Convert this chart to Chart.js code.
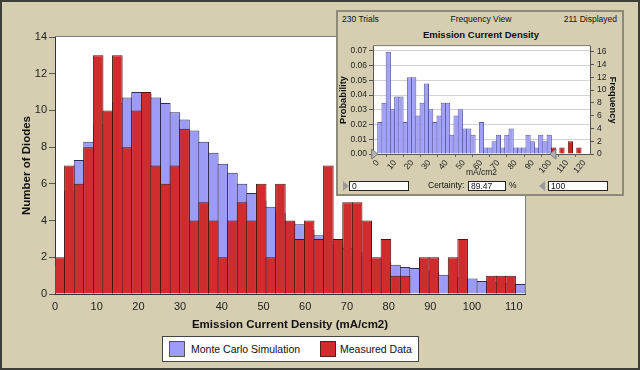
<!DOCTYPE html>
<html>
<head>
<meta charset="utf-8">
<script src="https://cdn.jsdelivr.net/npm/chart.js@4.4.1/dist/chart.umd.min.js"></script>
<style>
  html, body { margin: 0; padding: 0; background: #d5ceb1; }
  #wrap { position: relative; width: 640px; height: 370px; background: #d5ceb1; overflow: hidden;
          font-family: "Liberation Sans", Arial, sans-serif; color: #1a1a1a; }
  .abs { position: absolute; white-space: nowrap; }
  #main { position: absolute; left: 0; top: 0; }
  #legend { left: 162px; top: 336px; width: 257px; height: 26px; box-sizing: border-box;
            background: #fff; border: 1px solid #444; }
  .sw { position: absolute; top: 4px; width: 16px; height: 16px; box-sizing: border-box; border: 1px solid #555; }
  .lt { position: absolute; top: 0; line-height: 25px; font-size: 10.5px; color: #111; }
  #panel { left: 336px; top: 10px; width: 288px; height: 186px; box-sizing: border-box;
           background: #d5ceb1; border: 2px solid #8e8a7a; z-index: 2; }
  #inset { position: absolute; left: 338px; top: 38px; z-index: 3; }
  .small { font-size: 8.5px; line-height: 12px; z-index: 3; color: #111; }
  .box { z-index: 3; height: 10px; box-sizing: border-box; background: #fff; border: 1px solid #222;
         font-size: 8.5px; line-height: 8px; padding-left: 2px; color: #111; }
  .tri { z-index: 3; width: 0; height: 0; border-top: 5px solid transparent; border-bottom: 5px solid transparent; }
  #frame { left: 0; top: 0; width: 640px; height: 370px; box-sizing: border-box; border: 2px solid #3e3e38;
           z-index: 10; pointer-events: none; }
</style>
</head>
<body>
<div id="wrap">
  <canvas id="main" width="640" height="370"></canvas>

  <div id="legend" class="abs">
    <div class="sw" style="left:6px;background:#9c9cf6;"></div>
    <span class="lt" style="left:28px;">Monte Carlo Simulation</span>
    <div class="sw" style="left:157px;background:#cf2d2d;border-color:#5a1a1a;"></div>
    <span class="lt" style="left:177px;">Measured Data</span>
  </div>

  <div id="panel" class="abs"></div>
  <span class="abs small" style="left:342px;top:13px;">230 Trials</span>
  <span class="abs small" style="left:431px;top:13px;width:100px;text-align:center;">Frequency View</span>
  <span class="abs small" style="left:537px;top:13px;width:80px;text-align:right;">211 Displayed</span>
  <span class="abs small" style="left:401px;top:29px;width:160px;text-align:center;font-size:9.5px;font-weight:bold;">Emission Current Density</span>
  <canvas id="inset" width="284" height="142"></canvas>

  <div class="abs tri" style="left:343px;top:181px;border-left:6px solid #9a9a9a;"></div>
  <div class="abs box" style="left:349px;top:181px;width:60px;">0</div>
  <span class="abs small" style="left:428px;top:179px;">Certainty:</span>
  <div class="abs box" style="left:468px;top:181px;width:38px;">89.47</div>
  <span class="abs small" style="left:509px;top:179px;">%</span>
  <div class="abs tri" style="left:539px;top:181px;border-right:6px solid #9a9a9a;"></div>
  <div class="abs box" style="left:548px;top:181px;width:60px;">100</div>

  <div id="frame" class="abs"></div>
</div>

<script>
// bins du graphique principal (borne basse de chaque classe, mA/cm2)
const binStarts = ['0', '2.3', '4.6', '6.9', '9.2', '11.5', '13.8', '16.1', '18.4', '20.7',
  '23', '25.3', '27.6', '29.9', '32.2', '34.5', '36.8', '39.1', '41.4', '43.7',
  '46', '48.3', '50.6', '52.9', '55.2', '57.5', '59.8', '62.1', '64.4', '66.7',
  '69', '71.3', '73.6', '75.9', '78.2', '80.5', '82.8', '85.1', '87.4', '89.7',
  '92', '94.3', '96.6', '98.9', '101.2', '103.5', '105.8', '108.1', '110.4'];

const monteCarlo = [1.6, 5.6, 7.3, 8.3, 9.2, 9.9, 10.4, 10.7, 11.0, 10.9,
  10.7, 10.4, 9.9, 9.5, 8.9, 8.3, 7.7, 7.1, 6.6, 6.0,
  5.5, 5.1, 4.75, 4.4, 3.95, 3.8, 3.5, 3.2, 2.9, 2.7,
  2.5, 2.3, 2.1, 1.9, 1.75, 1.6, 1.47, 1.42, 1.3, 1.2,
  1.05, 0.95, 0.9, 0.85, 0.71, 0.65, 0.6, 0.58, 0.55];

const measured = [2, 7, 6, 8, 13, 10, 13, 8, 10, 11,
  7, 6, 7, 9, 4, 5, 4, 2, 4, 5,
  4, 6, 2, 6, 4, 3, 4, 3, 7, 3,
  5, 5, 4, 2, 3, 1, 1, 0, 2, 2,
  0, 2, 3, 0, 0, 1, 1, 1, 0];

const xTickMax = 112.7;
const yTicks = [0, 14];

// vue "Frequency View" (centre des classes et effectifs)
const insetBins = [1.23, 3.69, 6.15, 8.61, 11.07, 13.53, 15.99, 18.45, 20.91, 23.37,
  25.83, 28.29, 30.75, 33.21, 35.67, 38.13, 40.59, 43.05, 45.51, 47.97,
  50.43, 52.89, 55.35, 57.81, 60.27, 62.73, 65.19, 67.65, 70.11, 72.57,
  75.03, 77.49, 79.95, 82.41, 84.87, 87.33, 89.79, 92.25, 94.71, 97.17,
  99.63, 102.09, 104.55, 107.01, 109.47, 111.93, 114.39, 116.85];
const insetFreq = [5, 8, 16, 7, 9, 9, 5, 12, 12, 6,
  8, 11, 7, 5, 6, 8, 8, 3, 6, 7,
  4, 4, 3, 0, 5, 1, 1, 2, 3, 1,
  3, 4, 1, 1, 1, 3, 2, 1, 3, 2,
  3, 1, 0, 1, 0, 2, 0, 1];
const trials = 230;
const certaintyLow = 0;
const certaintyHigh = 100;

const FONT = '"Liberation Sans", Arial, sans-serif';
Chart.defaults.font.family = FONT;
Chart.defaults.color = '#1a1a1a';

const BLUE = '#9c9cf6', BLUE_EDGE = '#2c2c55';
const RED = '#cf2d2d', RED_EDGE = '#4f1212';

// fond blanc + cadre de la zone de tracé
const plotBackground = {
  id: 'plotBackground',
  beforeDraw(chart) {
    const { ctx, chartArea: a } = chart;
    ctx.save();
    ctx.fillStyle = '#ffffff';
    ctx.fillRect(a.left, a.top, a.right - a.left, a.bottom - a.top);
    ctx.strokeStyle = '#7d7d7d';
    ctx.lineWidth = 1;
    ctx.beginPath();
    ctx.moveTo(a.left, a.top - 0.5);
    ctx.lineTo(a.right + 0.5, a.top - 0.5);
    ctx.lineTo(a.right + 0.5, a.bottom);
    ctx.stroke();
    ctx.restore();
  }
};

new Chart(document.getElementById('main'), {
  type: 'bar',
  data: {
    labels: binStarts,
    datasets: [
      {
        label: 'Monte Carlo Simulation',
        data: monteCarlo,
        xAxisID: 'x',
        backgroundColor: BLUE,
        borderColor: BLUE_EDGE,
        borderWidth: { top: 1, left: 1, right: 1, bottom: 0 },
        order: 2
      },
      {
        label: 'Measured Data',
        data: measured,
        xAxisID: 'x',
        backgroundColor: RED,
        borderColor: RED_EDGE,
        borderWidth: { top: 1, left: 1, right: 1, bottom: 0 },
        order: 1
      }
    ]
  },
  options: {
    responsive: false,
    animation: false,
    layout: { padding: { left: 0, right: 115, top: 37, bottom: 38 } },
    datasets: { bar: { grouped: false, barPercentage: 1.104, categoryPercentage: 1 } },
    plugins: { legend: { display: false }, tooltip: { enabled: false } },
    scales: {
      x: { type: 'category', display: false, offset: true },
      xTicks: {
        type: 'linear', position: 'bottom', min: 0, max: xTickMax, offset: false,
        ticks: { stepSize: 10, includeBounds: false, padding: 6, color: '#222', font: { size: 11 } },
        grid: { drawOnChartArea: false, drawTicks: false },
        border: { color: '#333' },
        title: {
          display: true, text: 'Emission Current Density (mA/cm2)', color: '#111',
          font: { size: 11.5, weight: 'bold' }, padding: { top: 0, bottom: 0 }
        },
        afterFit(scale) { scale.height = 38; }
      },
      y: {
        min: yTicks[0], max: yTicks[1],
        ticks: { stepSize: 2, padding: 2, color: '#222', font: { size: 11 } },
        grid: { drawOnChartArea: false, tickLength: 6, color: '#555' },
        border: { color: '#333' },
        title: {
          display: true, text: 'Number of Diodes', color: '#111',
          font: { size: 11.5, weight: 'bold' }, padding: { top: 20, bottom: 0 }
        },
        afterFit(scale) { scale.width = 55; }
      }
    }
  },
  plugins: [plotBackground]
});

// petits triangles de certitude sur l'axe de la vue
const certaintyMarkers = {
  id: 'certaintyMarkers',
  afterDraw(chart) {
    const { ctx, chartArea: a } = chart;
    const xs = chart.scales.x;
    const b = a.bottom;
    const x0 = xs.getPixelForValue(certaintyLow);
    const x1 = xs.getPixelForValue(certaintyHigh);
    ctx.save();
    ctx.fillStyle = '#b4b4b4';
    ctx.strokeStyle = '#777';
    ctx.lineWidth = 1;
    ctx.beginPath();
    ctx.moveTo(x0 - 6, b - 5); ctx.lineTo(x0, b); ctx.lineTo(x0 - 6, b + 5); ctx.closePath();
    ctx.fill(); ctx.stroke();
    ctx.beginPath();
    ctx.moveTo(x1 + 6, b - 5); ctx.lineTo(x1, b); ctx.lineTo(x1 + 6, b + 5); ctx.closePath();
    ctx.fill(); ctx.stroke();
    ctx.restore();
  }
};

const small = { size: 8.5 };

new Chart(document.getElementById('inset'), {
  type: 'bar',
  data: {
    datasets: [{
      data: insetBins.map((x, i) => ({ x: x, y: insetFreq[i] })),
      xAxisID: 'x',
      yAxisID: 'yFreq',
      backgroundColor: insetBins.map(c => c > certaintyHigh ? '#cc2424' : '#a0a0f8'),
      borderColor: insetBins.map(c => c > certaintyHigh ? '#6e1010' : '#5a5aa8'),
      borderWidth: { top: 1, left: 1, right: 1, bottom: 0 },
      barPercentage: 1.236,
      categoryPercentage: 1
    }]
  },
  options: {
    responsive: false,
    animation: false,
    layout: { padding: { left: 0, right: 0, top: 5, bottom: 0 } },
    plugins: { legend: { display: false }, tooltip: { enabled: false } },
    scales: {
      x: {
        type: 'linear', min: -2.73, max: 123.3, offset: false,
        ticks: { stepSize: 10, includeBounds: false, padding: 1, font: small, color: '#222' },
        grid: { drawOnChartArea: false, tickLength: 3, color: '#666' },
        border: { color: '#555' },
        title: { display: true, text: 'mA/cm2', font: small, color: '#222', padding: { top: 0, bottom: 2 } },
        afterFit(scale) { scale.height = 26; }
      },
      yProb: {
        position: 'left', min: 0, max: 17 / trials * 0.992,
        ticks: { stepSize: 0.01, includeBounds: false, padding: 2, font: small, color: '#222',
                 callback: v => v.toFixed(2) },
        grid: { color: '#d2d2d2', tickColor: '#555', tickLength: 4 },
        border: { color: '#555' },
        title: { display: true, text: 'Probability', color: '#111',
                 font: { size: 9.3, weight: 'bold' }, padding: { top: 0, bottom: 0 } },
        afterFit(scale) { scale.width = 35; }
      },
      yFreq: {
        position: 'right', min: 0, max: 17 * 0.992,
        ticks: { stepSize: 2, includeBounds: false, padding: 3, font: small, color: '#222' },
        grid: { drawOnChartArea: false, tickLength: 4, color: '#555' },
        border: { color: '#555' },
        title: { display: true, text: 'Frequency', color: '#111',
                 font: { size: 9.3, weight: 'bold' }, padding: { top: 4, bottom: 0 } },
        afterFit(scale) { scale.width = 32; }
      }
    }
  },
  plugins: [plotBackground, certaintyMarkers]
});
</script>
</body>
</html>
